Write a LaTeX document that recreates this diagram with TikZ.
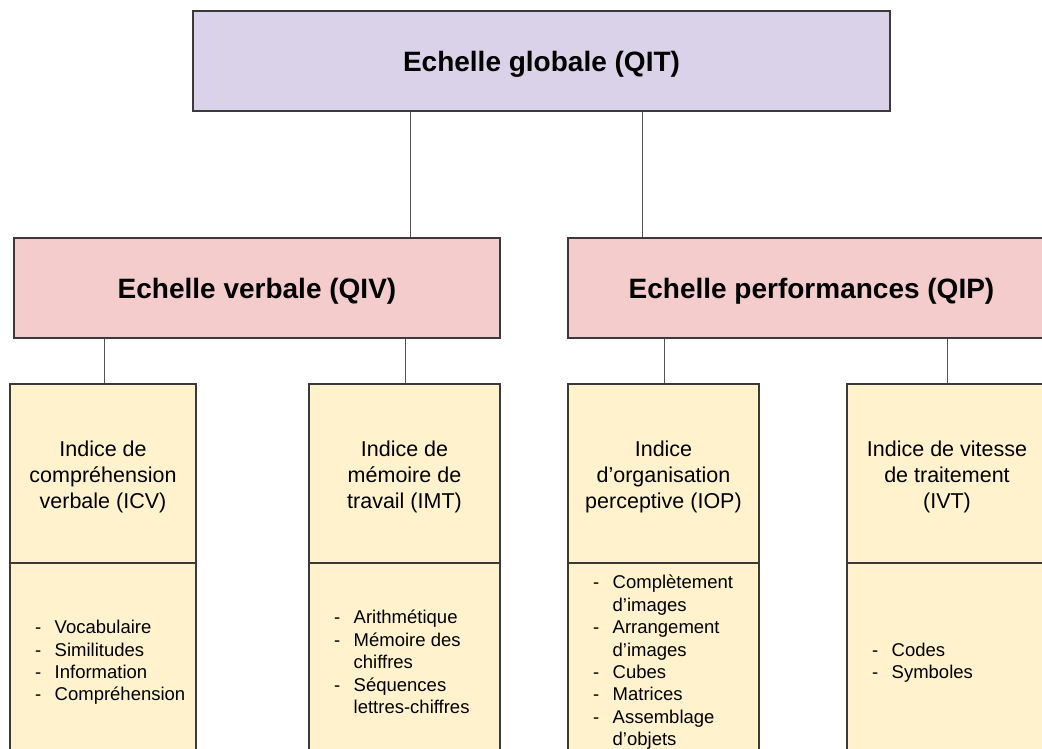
\documentclass[tikz,border=0pt]{standalone}
\usepackage{fontspec}
\setmainfont{Liberation Sans}
\definecolor{lav}{HTML}{D9D2E9}
\definecolor{pinkc}{HTML}{F4CCCC}
\definecolor{yel}{HTML}{FFF2CC}
\definecolor{bord}{HTML}{3A3A3A}
\definecolor{connc}{HTML}{555555}
\newcommand{\litem}[1]{\makebox[19.5pt][l]{-}#1}
\newcommand{\lcont}[1]{\hspace*{19.5pt}#1}
\begin{document}
\begin{tikzpicture}[x=1pt,y=-1pt,
  box/.style={draw=bord, line width=1.1pt, inner sep=0pt},
  titlef/.style={font=\fontsize{28}{33}\selectfont\bfseries, inner sep=0pt},
  headf/.style={font=\fontsize{21.5}{26.3}\selectfont, align=center, inner sep=0pt},
  listf/.style={font=\fontsize{18.5}{22.4}\selectfont, align=left, anchor=west, inner sep=0pt},
  conn/.style={draw=connc, line width=1pt}]
\useasboundingbox (0,0) rectangle (1042,749);
\clip (0,0) rectangle (1042,749);
\fill[white] (0,0) rectangle (1042,749);
% top
\node[box, fill=lav, minimum width=697pt, minimum height=100pt] (top) at (541.5,61) {};
\node[titlef] (topt) at (541.5,64.5) {Echelle globale (QIT)};
% level 2
\node[box, fill=pinkc, minimum width=486pt, minimum height=100pt] (v) at (257,288) {};
\node[titlef] (vt) at (257,291.5) {Echelle verbale (QIV)};
\node[box, fill=pinkc, minimum width=487pt, minimum height=100pt] (p) at (811.5,288) {};
\node[titlef] (pt) at (811.5,291.5) {Echelle performances (QIP)};
% bottom heads
\node[box, fill=yel, minimum width=186pt, minimum height=179pt] (h1) at (103,473.5) {};
\node[box, fill=yel, minimum width=191pt, minimum height=179pt] (h2) at (404.5,473.5) {};
\node[box, fill=yel, minimum width=191pt, minimum height=179pt] (h3) at (663.5,473.5) {};
\node[box, fill=yel, minimum width=200pt, minimum height=179pt] (h4) at (947,473.5) {};
\node[headf] (h1t) at (103,477) {Indice de\\compréhension\\verbale (ICV)};
\node[headf] (h2t) at (404.5,477) {Indice de\\mémoire de\\travail (IMT)};
\node[headf] (h3t) at (663.5,477) {Indice\\d’organisation\\perceptive (IOP)};
\node[headf] (h4t) at (947,477) {Indice de vitesse\\de traitement\\(IVT)};
% bottom list boxes
\node[box, fill=yel, minimum width=186pt, minimum height=196pt] (l1) at (103,661) {};
\node[box, fill=yel, minimum width=191pt, minimum height=196pt] (l2) at (404.5,661) {};
\node[box, fill=yel, minimum width=191pt, minimum height=196pt] (l3) at (663.5,661) {};
\node[box, fill=yel, minimum width=200pt, minimum height=196pt] (l4) at (947,661) {};
% lists
\node[listf] (t1) at (35,662.5) {\litem{Vocabulaire}\\\litem{Similitudes}\\\litem{Information}\\\litem{Compréhension}};
\node[listf] (t2) at (334,662) {\litem{Arithmétique}\\\litem{Mémoire des}\\\lcont{chiffres}\\\litem{Séquences}\\\lcont{lettres-chiffres}};
\node[listf] (t3) at (593,662.5) {\litem{Complètement}\\\lcont{d’images}\\\litem{Arrangement}\\\lcont{d’images}\\\litem{Cubes}\\\litem{Matrices}\\\litem{Assemblage}\\\lcont{d’objets}};
\node[listf] (t4) at (872,662.5) {\litem{Codes}\\\litem{Symboles}};
% connector positions
\coordinate (c1) at (410,0);
\coordinate (c2) at (642,0);
\coordinate (c3) at (104,0);
\coordinate (c4) at (405,0);
\coordinate (c5) at (664,0);
\coordinate (c6) at (947,0);
\draw[conn] (top.south -| c1) -- (v.north -| c1);
\draw[conn] (top.south -| c2) -- (p.north -| c2);
\draw[conn] (v.south -| c3) -- (h1.north -| c3);
\draw[conn] (v.south -| c4) -- (h2.north -| c4);
\draw[conn] (p.south -| c5) -- (h3.north -| c5);
\draw[conn] (p.south -| c6) -- (h4.north -| c6);
\end{tikzpicture}
\end{document}
